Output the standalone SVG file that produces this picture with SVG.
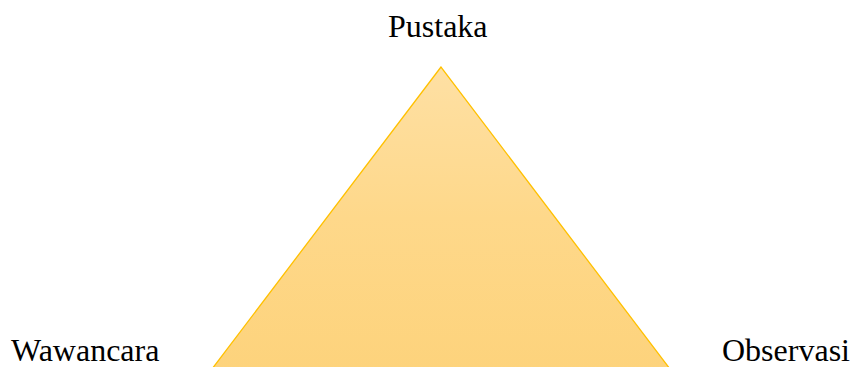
<svg xmlns="http://www.w3.org/2000/svg" width="851" height="367" viewBox="0 0 851 367">
<style>
text{font-family:"Liberation Serif","Times New Roman",serif;font-size:32px;fill:#000}
</style>
<defs>
<linearGradient id="g" x1="0" y1="0" x2="0" y2="1">
<stop offset="0" stop-color="#fee0a4"/>
<stop offset="0.5" stop-color="#fed88a"/>
<stop offset="1" stop-color="#fdd37c"/>
</linearGradient>
</defs>
<g id="triangle">
<polygon points="441,67 212,369 670,369" fill="url(#g)" stroke="#ffc000" stroke-width="1.3"/>
</g>
<g id="connectors"></g>
<g id="pustaka"><text x="388" y="37">Pustaka</text></g>
<g id="wawancara"><text x="11" y="361">Wawancara</text></g>
<g id="observasi"><text x="722" y="361">Observasi</text></g>
</svg>
